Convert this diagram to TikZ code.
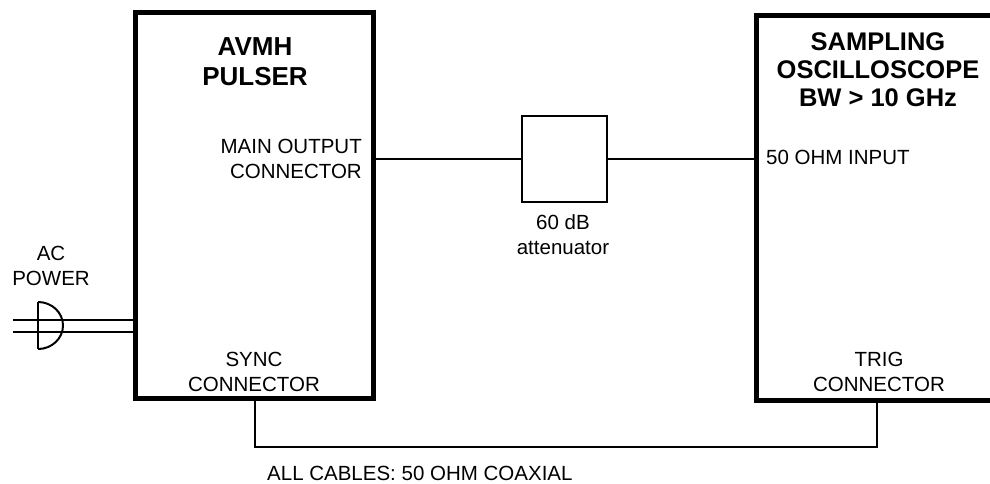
\documentclass[tikz,border=0pt]{standalone}
\usepackage{fontspec}
\setmainfont{Liberation Sans}
\begin{document}
\begin{tikzpicture}[x=1pt,y=-1pt,
  bigbox/.style={draw,line width=5pt,outer sep=0pt,inner sep=0pt},
  attbox/.style={draw,line width=2pt,outer sep=0pt,inner sep=0pt,minimum width=85pt,minimum height=86pt},
  cable/.style={line width=2pt},
  title/.style={font=\fontsize{25.5}{28}\selectfont\bfseries,align=center,inner sep=0pt},
  lbl/.style={font=\fontsize{20.5}{25}\selectfont,inner sep=0pt}]
\useasboundingbox (0,0) rectangle (990,483);
\clip (0,0) rectangle (990,483);
% boxes
\node[bigbox,minimum width=238pt,minimum height=386pt] (pulser) at (254,205) {};
\node[bigbox,minimum width=260pt,minimum height=385pt] (scope) at (886,207.5) {};
\node[attbox] (att) at (564.5,159) {};
% titles
\node[title,font=\fontsize{26}{30}\selectfont\bfseries] (pt) at (255,62) {AVMH\\PULSER};
\node[title] (st) at (878,70) {SAMPLING\\OSCILLOSCOPE\\BW > 10 GHz};
% labels
\node[lbl,align=right,anchor=east] (mainout) at (362,158.5) {MAIN OUTPUT\\CONNECTOR};
\node[lbl,anchor=west] (in50) at (766,157) {50 OHM INPUT};
\node[lbl,align=center] (attl) at (563,234.5) {60 dB\\attenuator};
\node[lbl,align=center] (sync) at (254,371.5) {SYNC\\CONNECTOR};
\node[lbl,align=center] (trig) at (879,371.5) {TRIG\\CONNECTOR};
\node[lbl,align=center] (acp) at (51,265.5) {AC\\POWER};
\node[lbl,anchor=west] (note) at (267,473) {ALL CABLES: 50 OHM COAXIAL};
% connectors
\draw[cable] (att.west -| pulser.east) -- (att.west);
\draw[cable] (att.east) -- (att.east -| scope.west);
\coordinate (synctap) at (255,398);
\coordinate (trigtap) at (877,400);
\draw[cable] (synctap) -- (255,447) -| (trigtap);
% AC power plug
\coordinate (pw1) at (13,320);
\coordinate (pw2) at (13,332);
\draw[cable] (pw1) -- (pw1 -| pulser.west);
\draw[cable] (pw2) -- (pw2 -| pulser.west);
\draw[line width=2pt] (38,302) -- (38,349);
\draw[line width=2pt] (38,302) arc[start angle=90,end angle=-90,x radius=25,y radius=-23.5];
\end{tikzpicture}
\end{document}
